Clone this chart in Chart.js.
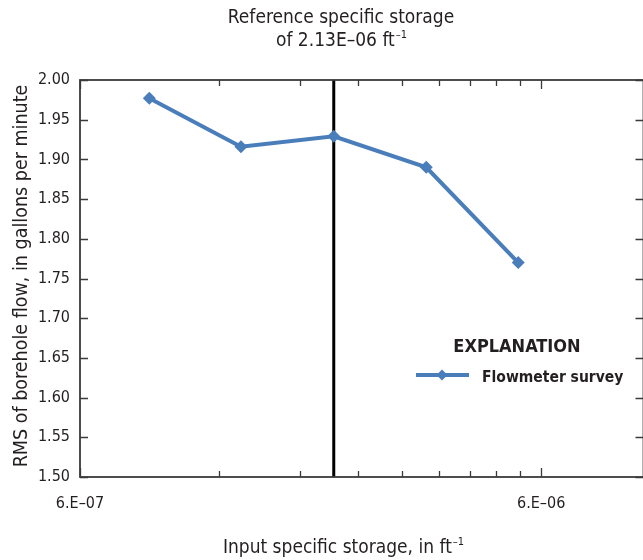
<!DOCTYPE html>
<html>
<head>
<meta charset="utf-8">
<script src="https://cdn.jsdelivr.net/npm/chart.js@4.4.1/dist/chart.umd.min.js"></script>
<style>
html, body { margin: 0; padding: 0; overflow: hidden; background: #fff; }
#wrap { position: relative; width: 650px; height: 560px; }
</style>
</head>
<body>
<div id="wrap"><canvas id="storageChart" width="650" height="560"></canvas></div>
<script>
// Data
const inputStorage = [8.48e-7, 1.34e-6, 2.13e-6, 3.38e-6, 5.35e-6];
const rmsFlow = [1.977, 1.916, 1.929, 1.890, 1.770];
const referenceStorage = 2.13e-6;

// Axis ticks
const xTickValues = [6e-7, 6e-6];
const xTickLabels = ['6.E\u201307', '6.E\u201306'];
const xMinorTicks = [1.2e-6, 1.8e-6, 2.4e-6, 3.0e-6, 3.6e-6, 4.2e-6, 4.8e-6, 5.4e-6];
const yTickValues = [1.50, 1.55, 1.60, 1.65, 1.70, 1.75, 1.80, 1.85, 1.90, 1.95, 2.00];

const FONT = '"Liberation Sans Narrow", "DejaVu Sans Condensed", sans-serif';
const TEXT = '#231f20';
const AXIS = '#3a3a3a';
const BLUE = '#4a7ebb';

// text with a superscript tail, e.g. ft^-1
function drawSup(ctx, base, sup, x, y, size, align) {
    ctx.font = size + 'px ' + FONT;
    const wb = ctx.measureText(base).width;
    ctx.font = Math.round(size * 0.6) + 'px ' + FONT;
    const ws = ctx.measureText(sup).width;
    let left = x;
    if (align === 'center') left = x - (wb + ws) / 2;
    ctx.textAlign = 'left';
    ctx.font = size + 'px ' + FONT;
    ctx.fillText(base, left, y);
    ctx.font = Math.round(size * 0.6) + 'px ' + FONT;
    ctx.fillText(sup, left + wb + 1, y - size * 0.4);
}

const framePlugin = {
    id: 'frame',
    beforeDatasetsDraw(chart) {
        const ctx = chart.ctx;
        const a = chart.chartArea;
        const xs = chart.scales.x;
        // reference line
        const rx = xs.getPixelForValue(referenceStorage);
        ctx.save();
        ctx.strokeStyle = '#000';
        ctx.lineWidth = 3;
        ctx.beginPath();
        ctx.moveTo(rx, a.top);
        ctx.lineTo(rx, a.bottom);
        ctx.stroke();
        ctx.restore();
    },
    afterDraw(chart) {
        const ctx = chart.ctx;
        const a = chart.chartArea;
        const xs = chart.scales.x;
        const ys = chart.scales.y;
        ctx.save();
        ctx.strokeStyle = AXIS;
        ctx.lineWidth = 1.8;
        ctx.strokeRect(a.left, a.top, a.right - a.left, a.bottom - a.top);

        // inward ticks
        ctx.lineWidth = 1.3;
        ctx.beginPath();
        yTickValues.forEach(v => {
            const py = Math.round(ys.getPixelForValue(v)) + 0.5;
            ctx.moveTo(a.left, py); ctx.lineTo(a.left + 8, py);
            ctx.moveTo(a.right, py); ctx.lineTo(a.right - 8, py);
        });
        xMinorTicks.forEach(v => {
            const px = Math.round(xs.getPixelForValue(v)) + 0.5;
            ctx.moveTo(px, a.bottom); ctx.lineTo(px, a.bottom - 6);
            ctx.moveTo(px, a.top); ctx.lineTo(px, a.top + 6);
        });
        xTickValues.forEach(v => {
            const px = Math.round(xs.getPixelForValue(v)) + 0.5;
            ctx.moveTo(px, a.bottom); ctx.lineTo(px, a.bottom - 9);
            ctx.moveTo(px, a.top); ctx.lineTo(px, a.top + 9);
        });
        ctx.stroke();

        // titles
        ctx.fillStyle = TEXT;
        ctx.textBaseline = 'alphabetic';
        ctx.textAlign = 'center';
        ctx.font = '19px ' + FONT;
        ctx.fillText('Reference specific storage', 341, 23);
        drawSup(ctx, 'of 2.13E\u201306 ft', '\u20131', 341, 46, 19, 'center');
        drawSup(ctx, 'Input specific storage, in ft', '\u20131', 343, 553, 19, 'center');

        ctx.save();
        ctx.translate(27, 276);
        ctx.rotate(-Math.PI / 2);
        ctx.textAlign = 'center';
        ctx.font = '19.5px ' + FONT;
        ctx.fillText('RMS of borehole flow, in gallons per minute', 0, 0);
        ctx.restore();

        // explanation
        ctx.textAlign = 'center';
        ctx.font = 'bold 18px ' + FONT;
        ctx.fillText('EXPLANATION', 517, 352);
        ctx.strokeStyle = BLUE;
        ctx.lineWidth = 4;
        ctx.beginPath();
        ctx.moveTo(416, 375); ctx.lineTo(469, 375);
        ctx.stroke();
        ctx.fillStyle = BLUE;
        ctx.beginPath();
        ctx.moveTo(442, 369.5); ctx.lineTo(447.5, 375); ctx.lineTo(442, 380.5); ctx.lineTo(436.5, 375);
        ctx.closePath();
        ctx.fill();
        ctx.fillStyle = TEXT;
        ctx.textAlign = 'left';
        ctx.font = 'bold 15.5px ' + FONT;
        ctx.fillText('Flowmeter survey', 482, 382);
        ctx.restore();
    }
};

const ctx = document.getElementById('storageChart').getContext('2d');
const storageChart = new Chart(ctx, {
    type: 'line',
    data: {
        datasets: [{
            label: 'Flowmeter survey',
            data: inputStorage.map((x, i) => ({ x: x, y: rmsFlow[i] })),
            borderColor: BLUE,
            backgroundColor: BLUE,
            borderWidth: 4,
            pointStyle: 'rectRot',
            pointRadius: 6.5,
            pointBorderWidth: 0,
            pointBackgroundColor: BLUE,
            tension: 0
        }]
    },
    options: {
        responsive: false,
        devicePixelRatio: 1,
        animation: false,
        layout: { padding: { left: 0, top: 80, right: 3, bottom: 0 } },
        scales: {
            x: {
                type: 'logarithmic',
                min: 6e-7,
                max: 1e-5,
                afterBuildTicks: (scale) => {
                    scale.ticks = xTickValues.map(v => ({ value: v }));
                },
                afterFit: (scale) => { scale.height = 83; },
                grid: { display: false, drawTicks: false },
                border: { display: false },
                ticks: {
                    autoSkip: false,
                    maxRotation: 0,
                    padding: 17,
                    color: TEXT,
                    font: { family: FONT, size: 16 },
                    callback: (value, index) => xTickLabels[index]
                }
            },
            y: {
                min: 1.5,
                max: 2.0,
                afterBuildTicks: (scale) => {
                    scale.ticks = yTickValues.map(v => ({ value: v }));
                },
                afterFit: (scale) => { scale.width = 80; },
                grid: { display: false, drawTicks: false },
                border: { display: false },
                ticks: {
                    padding: 10,
                    color: TEXT,
                    font: { family: FONT, size: 16 },
                    callback: (value) => Number(value).toFixed(2)
                }
            }
        },
        plugins: {
            legend: { display: false },
            tooltip: { enabled: false }
        }
    },
    plugins: [framePlugin]
});
</script>
</body>
</html>
